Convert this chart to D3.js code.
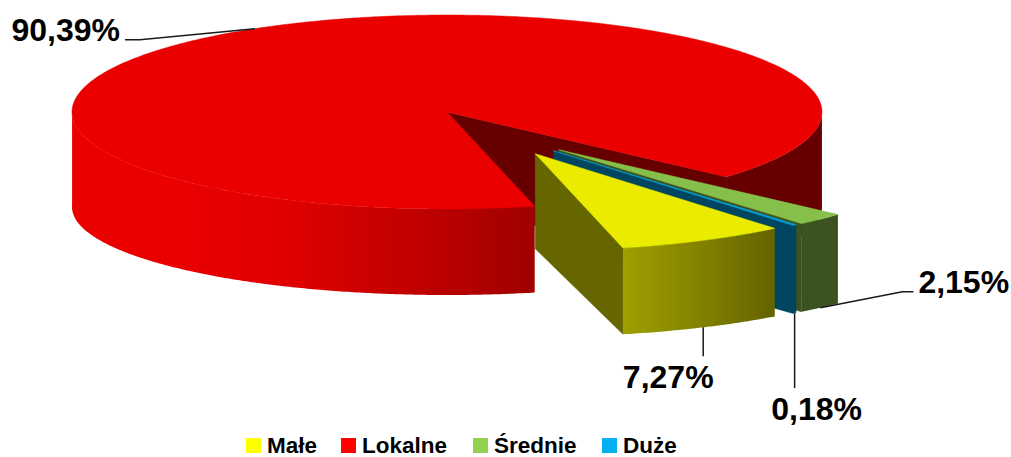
<!DOCTYPE html>
<meta charset="utf-8">
<style>
  body { margin: 0; background: #fff; }
  text { font-family: "Liberation Sans", Arial, sans-serif; font-weight: bold; fill: #000; }
</style>
<svg width="1011" height="457"></svg>
<script src="https://d3js.org/d3.v7.min.js"></script>
<script>
// data
var categories = ['Małe', 'Lokalne', 'Średnie', 'Duże'];
var values = [7.27, 90.39, 2.15, 0.18];
var valueLabels = ['7,27%', '90,39%', '2,15%', '0,18%'];
var colors = ['#ffff00', '#ff0000', '#92d050', '#00b0f0'];
var explode = [0.49, 0, 0.49, 0.49];

var svg = d3.select('svg');
var defs = svg.append('defs');
var deg = Math.PI / 180;

// projection of the disc (top ellipse / bottom ellipse)
var cx = 447, cy = 112, rx = 375, ryTop = 97, ryBot = 88, depth = 95;

var pie = d3.pie().sort(null)
  .startAngle(140.3 * deg)
  .endAngle(500.3 * deg);

var slices = pie(values).map(function (p, i) {
  return {
    i: i,
    a0: p.startAngle - Math.PI / 2,   // screen angle, clockwise from 3 o'clock
    a1: p.endAngle - Math.PI / 2,
    mid: (p.startAngle + p.endAngle) / 2 - Math.PI / 2,
    color: d3.rgb(colors[i]),
    off: [0, 0]
  };
});

// the pulled-out slices move out together, each spread a bit along its own bisector
var gx = 0, gy = 0;
slices.forEach(function (s) {
  if (explode[s.i] > 0) {
    gx += (s.a1 - s.a0) * Math.cos(s.mid);
    gy += (s.a1 - s.a0) * Math.sin(s.mid);
  }
});
var groupMid = Math.atan2(gy, gx);
slices.forEach(function (s) {
  var e = explode[s.i];
  if (!e) return;
  var dir = Math.atan2(Math.sin(s.mid) + Math.sin(groupMid), Math.cos(s.mid) + Math.cos(groupMid));
  s.off = [e * Math.cos(dir) * rx, e * Math.sin(dir) * ryTop];
});

function pt(s, a, r, level) {
  var ry = ryTop + (ryBot - ryTop) * level;
  return [cx + s.off[0] + rx * r * Math.cos(a),
          cy + s.off[1] + level * depth + ry * r * Math.sin(a)];
}

// light from the front-left, sides and cut faces dark
var light = d3.scaleLinear()
  .domain([0, 52, 76, 91, 113, 135, 175, 185])
  .range([0.4, 0.4, 0.62, 0.73, 0.87, 0.92, 0.92, 0.88])
  .clamp(true);

function shade(c, k) {
  return d3.rgb(c.r * k, c.g * k, c.b * k).toString();
}
function angleDeg(a) {
  return ((a / deg) % 360 + 450) % 360 - 90;
}

var line = d3.line();
function poly(pts) { return line(pts) + 'Z'; }

var pieGroup = svg.append('g').attr('class', 'pie');

var order = slices.slice().sort(function (p, q) {
  return (p.off[1] + 0.5 * ryTop * Math.sin(p.mid)) - (q.off[1] + 0.5 * ryTop * Math.sin(q.mid));
});

var gradId = 0;
function drawWall(g, s, b0, b1) {
  var n = Math.max(1, Math.ceil((b1 - b0) / (0.5 * deg)));
  var step = (b1 - b0) / n;
  var topPts = [], botPts = [], angs = [];
  for (var k = 0; k <= n; k++) {
    var a = b0 + k * step;
    angs.push(a);
    topPts.push(pt(s, a, 1, 0));
    botPts.push(pt(s, a, 1, 1));
  }
  var xs = topPts.map(function (p) { return p[0]; });
  var x0 = d3.min(xs), x1 = d3.max(xs);
  var id = 'wall' + (gradId++);
  var grad = defs.append('linearGradient').attr('id', id)
    .attr('gradientUnits', 'userSpaceOnUse')
    .attr('x1', x0).attr('x2', Math.max(x1, x0 + 0.01)).attr('y1', 0).attr('y2', 0);
  var stops = angs.map(function (a, k) {
    return { o: x1 > x0 ? (xs[k] - x0) / (x1 - x0) : 0, c: shade(s.color, light(angleDeg(a))) };
  }).sort(function (p, q) { return p.o - q.o; });
  stops.forEach(function (d) {
    grad.append('stop').attr('offset', d.o).attr('stop-color', d.c);
  });
  g.append('path')
    .attr('d', poly(topPts.concat(botPts.reverse())))
    .attr('fill', 'url(#' + id + ')');
}

order.forEach(function (s) {
  var g = pieGroup.append('g');
  var side = shade(s.color, 0.4);

  // cut faces
  [[s.a0, Math.cos(s.a0) < 0], [s.a1, Math.cos(s.a1) > 0]].forEach(function (f) {
    if (!f[1]) return;
    g.append('path')
      .attr('d', poly([pt(s, f[0], 0, 0), pt(s, f[0], 1, 0), pt(s, f[0], 1, 1), pt(s, f[0], 0, 1)]))
      .attr('fill', side).attr('stroke', side).attr('stroke-width', 0.5);
  });

  // outer wall, front-facing runs only
  var n = Math.max(1, Math.ceil((s.a1 - s.a0) / (0.25 * deg)));
  var step = (s.a1 - s.a0) / n;
  var runStart = null;
  for (var k = 0; k <= n; k++) {
    var a = s.a0 + k * step;
    var vis = k < n && Math.sin(a + step / 2) > -0.02;
    if (vis && runStart === null) runStart = a;
    if (!vis && runStart !== null) { drawWall(g, s, runStart, a); runStart = null; }
  }

  // top face
  var m = Math.max(1, Math.ceil((s.a1 - s.a0) / (0.5 * deg)));
  var top = [pt(s, s.a0, 0, 0)];
  for (var j = 0; j <= m; j++) top.push(pt(s, s.a0 + j * (s.a1 - s.a0) / m, 1, 0));
  var tc = shade(s.color, 0.92);
  g.append('path')
    .attr('d', poly(top))
    .attr('fill', tc).attr('stroke', tc).attr('stroke-width', 0.5);
});

// data labels with leader lines
var labelLayout = [
  { at: 1, leader: [[0, 29]], text: [-35, 61], anchor: 'middle' },
  { at: 0, leader: [[-115, 11], [-130, 11]], text: [-135, 12], anchor: 'end' },
  { at: 1, leader: [[82, -16], [93, -16]], text: [98, -15], anchor: 'start' },
  { at: 1, leader: [[0, 75]], text: [22, 107], anchor: 'middle' }
];

var labelGroup = svg.append('g').attr('class', 'labels');
slices.forEach(function (s) {
  var L = labelLayout[s.i];
  var a = pt(s, s.mid, 1, L.at);
  var pts = [a].concat(L.leader.map(function (d) { return [a[0] + d[0], a[1] + d[1]]; }));
  labelGroup.append('path')
    .attr('d', line(pts))
    .attr('fill', 'none').attr('stroke', '#1a1a1a').attr('stroke-width', 1.5);
  labelGroup.append('text')
    .attr('x', a[0] + L.text[0]).attr('y', a[1] + L.text[1])
    .attr('text-anchor', L.anchor)
    .attr('font-size', 32)
    .text(valueLabels[s.i]);
});

// legend
var legendX = [246, 341, 473, 602];
var legend = svg.append('g').attr('class', 'legend');
categories.forEach(function (c, i) {
  legend.append('rect')
    .attr('x', legendX[i]).attr('y', 438).attr('width', 15).attr('height', 15)
    .attr('fill', colors[i]);
  legend.append('text')
    .attr('x', legendX[i] + 21).attr('y', 453)
    .attr('font-size', 22.5)
    .text(c);
});
</script>
